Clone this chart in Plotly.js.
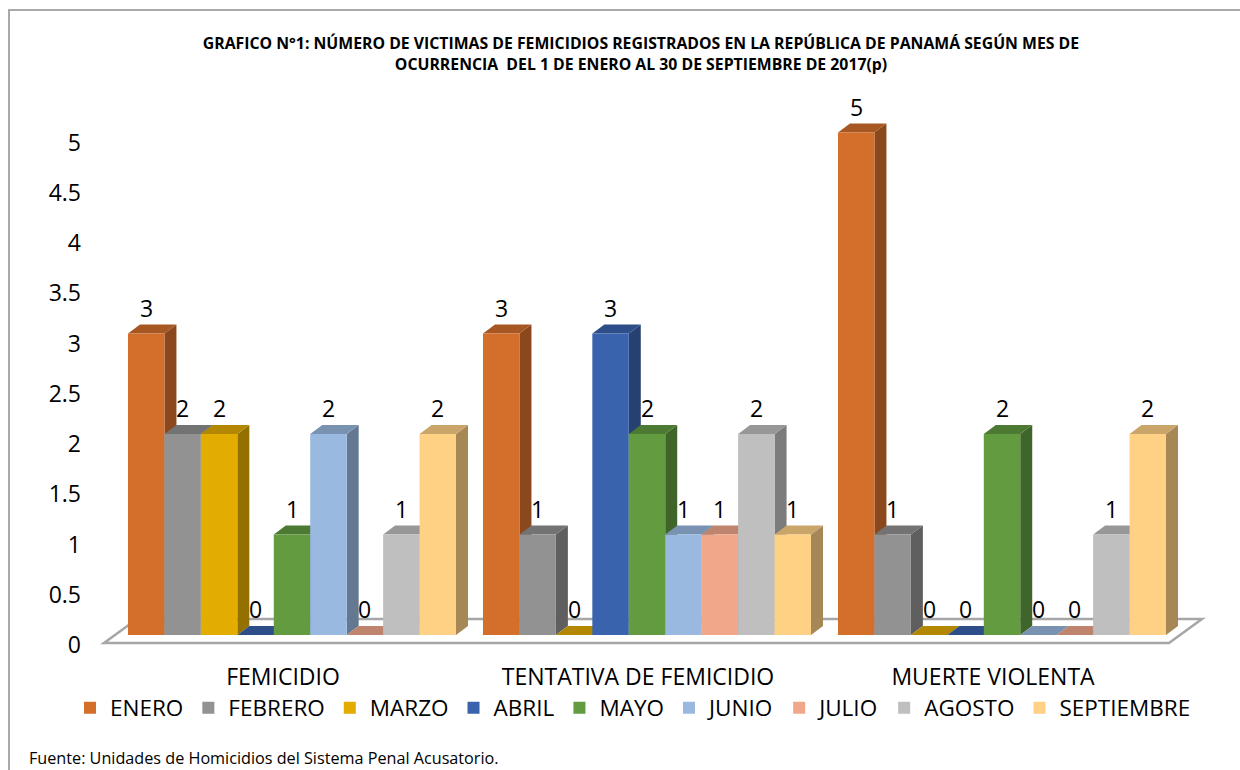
<!DOCTYPE html>
<html><head><meta charset="utf-8">
<script src="https://cdn.plot.ly/plotly-3.0.1.min.js"></script>
<style>
html,body{margin:0;padding:0;overflow:hidden;background:#fff;width:1240px;height:770px;}
#frame{position:absolute;left:8px;top:9px;width:1400px;height:900px;border-left:2px solid #a9a9a9;border-top:2px solid #a9a9a9;}
#chart{position:absolute;left:0;top:0;width:1240px;height:770px;}
</style></head><body><div id="frame"></div><div id="chart"></div>
<script>
// ---- data ----
const categories = ['FEMICIDIO', 'TENTATIVA DE FEMICIDIO', 'MUERTE VIOLENTA'];
const months = ['ENERO', 'FEBRERO', 'MARZO', 'ABRIL', 'MAYO', 'JUNIO', 'JULIO', 'AGOSTO', 'SEPTIEMBRE'];
const enero      = [3, 3, 5];
const febrero    = [2, 1, 1];
const marzo      = [2, 0, 0];
const abril      = [0, 3, 0];
const mayo       = [1, 2, 2];
const junio      = [2, 1, 0];
const julio      = [0, 1, 0];
const agosto     = [1, 2, 1];
const septiembre = [2, 1, 2];
const yTicks = [0, 0.5, 1, 1.5, 2, 2.5, 3, 3.5, 4, 4.5, 5];
const titleText = 'GRAFICO N°1: NÚMERO DE VICTIMAS DE FEMICIDIOS REGISTRADOS EN LA REPÚBLICA DE PANAMÁ SEGÚN MES DE<br>OCURRENCIA  DEL 1 DE ENERO AL 30 DE SEPTIEMBRE DE 2017(p)';
const sourceText = 'Fuente: Unidades de Homicidios del Sistema Penal Acusatorio.';

const series = [enero, febrero, marzo, abril, mayo, junio, julio, agosto, septiembre];
const colors = ['#D46F2B', '#929292', '#E2AC00', '#3A63AE', '#629B40', '#9AB9E1', '#F0A78A', '#BFBFBF', '#FFD185'];

// ---- geometry (styling) ----
const W = 1240, H = 770;
const plotL = 90, plotR = 1236, c0px = 292, pxPerCat = 355;
const mT = 105, mB = 123, zeroPx = 635, pxPerUnit = 100.5;
const xRange = [(plotL - c0px) / pxPerCat, (plotR - c0px) / pxPerCat];
const yRange = [-(H - mB - zeroPx) / pxPerUnit, (zeroPx - mT) / pxPerUnit];
const bargap = 0.076;
const nS = series.length;
const bw = (1 - bargap) / nS;
const ddx = 12 / pxPerCat, ddy = 9 / pxPerUnit;
const px2x = p => (p - c0px) / pxPerCat;

function shade(hex, f) {
  const n = parseInt(hex.slice(1), 16);
  const r = Math.round(((n >> 16) & 255) * f), g = Math.round(((n >> 8) & 255) * f), b = Math.round((n & 255) * f);
  return 'rgb(' + r + ',' + g + ',' + b + ')';
}

const font = 'Open Sans, Noto Sans, sans-serif';
const traces = series.map((vals, i) => ({
  type: 'bar', name: months[i], x: categories, y: vals,
  marker: {color: colors[i], line: {width: 0}}, hoverinfo: 'skip'
}));

const shapes = [];
// floor (decorative 3D base)
const fl0 = px2x(104), fr0 = px2x(1169);
const fy0 = -8 / pxPerUnit, fy1 = 16 / pxPerUnit, fdx = 33 / pxPerCat;
shapes.push({type: 'path', xref: 'x2', yref: 'y', layer: 'below',
  path: 'M' + fl0 + ',' + fy0 + ' L' + fr0 + ',' + fy0 + ' L' + (fr0 + fdx) + ',' + fy1 + ' L' + (fl0 + fdx) + ',' + fy1 + ' Z',
  fillcolor: '#ffffff', line: {color: '#a6a6a6', width: 2.5}});

const annotations = [];
categories.forEach((c, ci) => {
  series.forEach((vals, si) => {
    const v = vals[ci];
    const x0 = ci - (1 - bargap) / 2 + si * bw, x1 = x0 + bw;
    if (v > 0) shapes.push({type: 'path', xref: 'x2', yref: 'y', layer: 'below',
      path: 'M' + x1 + ',0 L' + (x1 + ddx) + ',' + ddy + ' L' + (x1 + ddx) + ',' + (v + ddy) + ' L' + x1 + ',' + v + ' Z',
      fillcolor: shade(colors[si], 0.65), line: {width: 0}});
    shapes.push({type: 'path', xref: 'x2', yref: 'y', layer: 'below',
      path: 'M' + x0 + ',' + v + ' L' + (x0 + ddx) + ',' + (v + ddy) + ' L' + (x1 + ddx) + ',' + (v + ddy) + ' L' + x1 + ',' + v + ' Z',
      fillcolor: shade(colors[si], 0.79), line: {width: 0}});
    annotations.push({xref: 'x2', yref: 'y', x: (x0 + x1) / 2, y: v, yshift: 26, yanchor: 'middle',
      text: String(v), showarrow: false, font: {family: font, size: 23, color: '#000'}});
  });
});

const plotW = plotR - plotL, plotH = H - mT - mB;
annotations.push({xref: 'paper', yref: 'paper', x: (27 - plotL) / plotW, y: -(758 - (H - mB)) / plotH,
  xanchor: 'left', yanchor: 'middle', text: sourceText, showarrow: false,
  font: {family: font, size: 16.2, color: '#000'}});

const layout = {
  width: W, height: H,
  margin: {l: plotL, r: W - plotR, t: mT, b: mB, pad: 0},
  paper_bgcolor: 'rgba(0,0,0,0)', plot_bgcolor: 'rgba(0,0,0,0)',
  barmode: 'group', bargap: bargap, bargroupgap: 0,
  showlegend: true, hovermode: false,
  title: {text: titleText, font: {family: font, size: 15.8, color: '#000', weight: 'bold'},
    xref: 'container', yref: 'container', x: 641 / W, xanchor: 'center', y: 1 - 49 / H, yanchor: 'middle'},
  xaxis: {type: 'category', range: xRange, showgrid: false, zeroline: false, showline: false, ticks: '',
    tickfont: {family: font, size: 23, color: '#000'}, ticklabelshift: -9, ticklabelstandoff: 14, fixedrange: true},
  xaxis2: {type: 'linear', range: xRange, overlaying: 'x', visible: false, fixedrange: true},
  yaxis: {range: yRange, tickvals: yTicks, ticktext: yTicks.map(String), showgrid: false, zeroline: false, showline: false,
    ticks: '', tickfont: {family: font, size: 23, color: '#000'}, ticklabelshift: 10, ticklabelstandoff: 8, fixedrange: true},
  legend: {orientation: 'h', xref: 'container', yref: 'container', x: 633 / W, xanchor: 'center',
    y: 1 - 708 / H, yanchor: 'middle', font: {family: font, size: 22.5, color: '#000'}, itemclick: false},
  shapes: shapes, annotations: annotations
};
Plotly.newPlot('chart', traces, layout, {displayModeBar: false, staticPlot: true});
</script></body></html>
